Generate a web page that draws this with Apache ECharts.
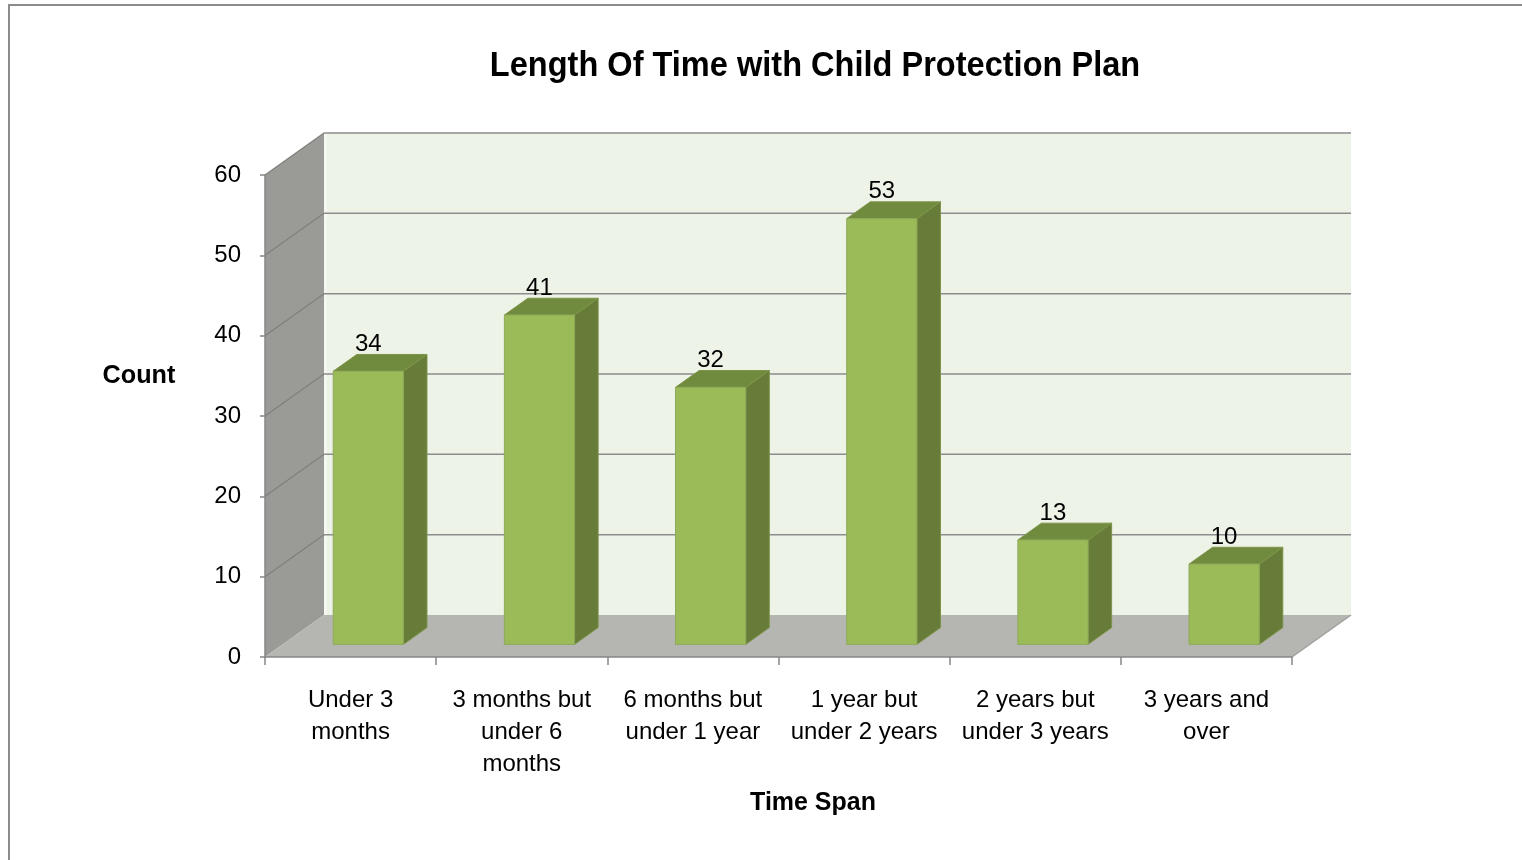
<!DOCTYPE html>
<html><head><meta charset="utf-8">
<script src="https://cdn.jsdelivr.net/npm/echarts@6/dist/echarts.min.js"></script>
<style>html,body{margin:0;padding:0;background:#fff}#c{width:1522px;height:860px}</style>
</head><body><div id="c"></div>
<script>
const categories = ['Under 3\nmonths', '3 months but\nunder 6\nmonths', '6 months but\nunder 1 year', '1 year but\nunder 2 years', '2 years but\nunder 3 years', '3 years and\nover'];
const counts = [34, 41, 32, 53, 13, 10];
const yTicks = [0, 10, 20, 30, 40, 50, 60];
const titleText = 'Length Of Time with Child Protection Plan';
const yName = 'Count';
const xName = 'Time Span';

const DX = 59, DY = -42;      // depth vector of the 3D box
const F0 = 0.3, F1 = 0.7;     // bar depth span (fraction of box depth)
const BAR_W = 0.41;           // fraction of category width
const FONT = '"Liberation Sans", Arial, sans-serif';

const chart = echarts.init(document.getElementById('c'), null, {renderer: 'canvas'});

function sceneRender(params, api) {
  const cs = params.coordSys;
  const x0 = cs.x, x1 = cs.x + cs.width, yTop = cs.y, yBot = cs.y + cs.height;
  const children = [];
  children.push({type: 'rect', shape: {x: x0 + DX, y: yTop + DY, width: cs.width, height: cs.height},
    style: {fill: '#eef3e8'}});
  children.push({type: 'polygon', shape: {points: [[x0, yTop], [x0 + DX, yTop + DY], [x0 + DX, yBot + DY], [x0, yBot]]},
    style: {fill: '#9a9b97'}});
  children.push({type: 'polygon', shape: {points: [[x0, yBot], [x1, yBot], [x1 + DX, yBot + DY], [x0 + DX, yBot + DY]]},
    style: {fill: '#b5b6b2'}});
  children.push({type: 'line', shape: {x1: x0 + DX + 1.5, y1: yTop + DY, x2: x0 + DX + 1.5, y2: yBot + DY},
    style: {stroke: '#f7faf3', lineWidth: 2}});
  yTicks.forEach(function (v) {
    const y = api.coord([0, v])[1];
    if (v > 0) {
      children.push({type: 'line', shape: {x1: x0 + DX, y1: y + DY, x2: x1 + DX, y2: y + DY},
        style: {stroke: '#8c8c8c', lineWidth: 1.5}});
      children.push({type: 'line', shape: {x1: x0, y1: y, x2: x0 + DX, y2: y + DY},
        style: {stroke: '#7f807c', lineWidth: 1.2}});
    }
  });
  children.push({type: 'line', shape: {x1: x1, y1: yBot, x2: x1 + DX, y2: yBot + DY},
    style: {stroke: '#a0a19d', lineWidth: 1.5}});
  return {type: 'group', children: children};
}

function barRender(params, api) {
  const i = api.value(0), v = api.value(1);
  const base = api.coord([i, 0]);
  const topP = api.coord([i, v]);
  const catW = api.size([1, 0])[0];
  const w = catW * BAR_W;
  const cx = base[0] + F0 * DX;
  const yb = base[1] + F0 * DY;
  const yt = topP[1] + F0 * DY;
  const xl = cx - w / 2, xr = cx + w / 2;
  const ddx = (F1 - F0) * DX, ddy = (F1 - F0) * DY;
  return {type: 'group', children: [
    {type: 'polygon', shape: {points: [[xr, yt], [xr + ddx, yt + ddy], [xr + ddx, yb + ddy], [xr, yb]]},
      style: {fill: '#677c39', stroke: '#7d9448', lineWidth: 1}},
    {type: 'polygon', shape: {points: [[xl, yt], [xr, yt], [xr + ddx, yt + ddy], [xl + ddx, yt + ddy]]},
      style: {fill: '#718b3e', stroke: '#7d9448', lineWidth: 1}},
    {type: 'rect', shape: {x: xl, y: yt, width: w, height: yb - yt},
      style: {fill: '#9bbb59', stroke: '#8fa95a', lineWidth: 1}},
    {type: 'text', style: {text: String(v), x: cx, y: yt + ddy + 2, align: 'center', verticalAlign: 'bottom',
      font: '24px ' + FONT, fill: '#000'}}
  ]};
}

chart.setOption({
  animation: false,
  backgroundColor: '#fff',
  grid: {left: 265, right: 230, top: 175, bottom: 203, containLabel: false},
  xAxis: {
    type: 'category', data: categories, z: 10,
    axisLine: {lineStyle: {color: '#868686', width: 1.5}},
    axisTick: {show: true, length: 8, lineStyle: {color: '#868686', width: 1.5}},
    axisLabel: {color: '#000', fontSize: 24, fontFamily: FONT, lineHeight: 32, margin: 27, interval: 0}
  },
  yAxis: {
    type: 'value', min: 0, max: 60, interval: 10, z: 10,
    axisLine: {show: true, lineStyle: {color: '#868686', width: 1.5}},
    axisTick: {show: true, length: 5, lineStyle: {color: '#868686', width: 1.5}},
    splitLine: {show: false},
    axisLabel: {color: '#000', fontSize: 24, fontFamily: FONT, margin: 24}
  },
  series: [
    {type: 'custom', renderItem: sceneRender, data: [[0, 0]], z: 1, silent: true, clip: false},
    {type: 'custom', renderItem: barRender, data: counts.map(function (c, i) { return [i, c]; }), z: 3, clip: false}
  ],
  graphic: [
    {type: 'rect', shape: {x: 9, y: 5, width: 1540, height: 900}, style: {fill: 'none', stroke: '#8c8c8c', lineWidth: 2}, z: 0},
    {type: 'text', x: 815, y: 66, scaleX: 0.93, style: {text: titleText, font: 'bold 35px ' + FONT, fill: '#000', align: 'center', verticalAlign: 'middle'}},
    {type: 'text', x: 139, y: 376, scaleX: 0.97, style: {text: yName, font: 'bold 26px ' + FONT, fill: '#000', align: 'center', verticalAlign: 'middle'}},
    {type: 'text', x: 813, y: 803, scaleX: 0.96, style: {text: xName, font: 'bold 26px ' + FONT, fill: '#000', align: 'center', verticalAlign: 'middle'}}
  ]
});
</script></body></html>
